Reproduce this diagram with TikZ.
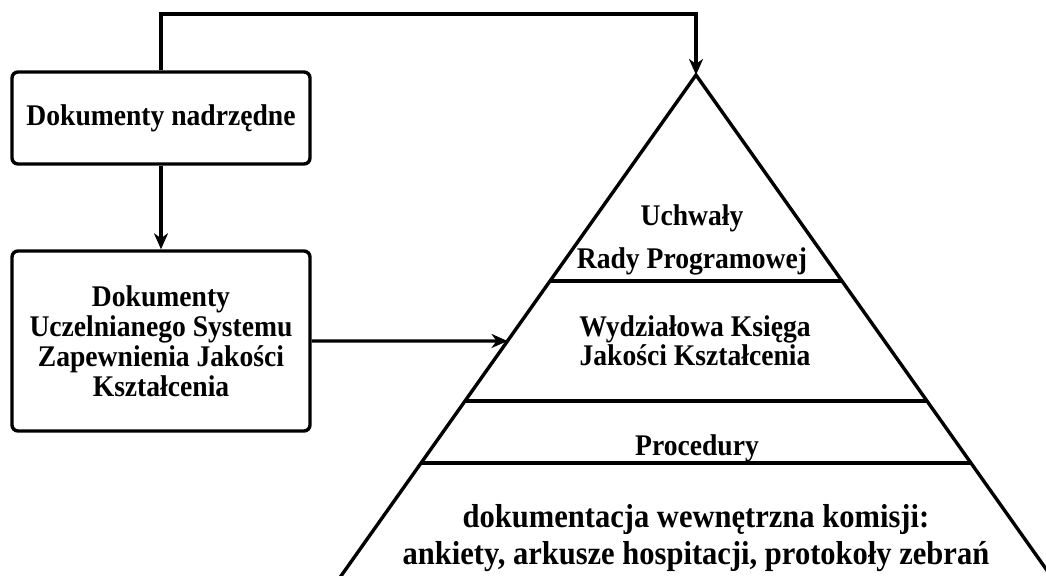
\documentclass[tikz,border=0pt]{standalone}
\usepackage{fontspec}
\setmainfont{Liberation Serif}[FakeStretch=0.92]
\usetikzlibrary{arrows.meta,calc,positioning}

\begin{document}
\begin{tikzpicture}[x=0.5pt,y=-0.5pt,
    box/.style={draw,line width=1.7pt,rounded corners=3pt,minimum width=149pt,inner sep=0pt,align=center,font=\bfseries\fontsize{15}{15}\selectfont},
    conn/.style={line width=1.7pt,-{Stealth[length=8pt,width=7pt,inset=2.5pt]}},
    layer/.style={align=center,font=\bfseries\fontsize{15}{14.5}\selectfont}]
        \clip (0,0) rectangle (1046,576);
        % boxes
        \node[box,minimum height=46pt] (nadrz) at (161,118) {Dokumenty nadrzędne};
        \node[box,minimum height=90pt] (uczel) at (161,341) {Dokumenty\\Uczelnianego Systemu\\Zapewnienia Jakości\\Kształcenia};
        % pyramid
        \coordinate (apex) at (696,75);
        \coordinate (baseL) at (341,576);
        \coordinate (baseR) at (1051,576);
        \draw[line width=1.7pt] ($(apex)!1.05!(baseL)$) -- (apex) -- ($(apex)!1.05!(baseR)$);
        \foreach \h in {281,401,463}
            \draw[line width=1.7pt] ($(apex)!{(\h-75)/501}!(baseL)$) -- ($(apex)!{(\h-75)/501}!(baseR)$);
        % layers
        \node[layer] (rada) at (692,240) {Uchwały\\[7pt]Rady Programowej};
        \node[layer] (ksiega) at (695,341) {Wydziałowa Księga\\Jakości Kształcenia};
        \node[layer] (proc) at (697,448) {Procedury};
        \node[layer,font=\bfseries\fontsize{16.6}{18.5}\selectfont] (dok) at (696,538) {dokumentacja wewnętrzna komisji:\\ankiety, arkusze hospitacji, protokoły zebrań};
        % connectors
        \coordinate (turn) at (696,14);
        \coordinate (entry) at ($(apex)!{(341-75)/501}!(baseL)$);
        \draw[conn] (nadrz.north) |- (turn) -- (apex);
        \draw[conn] (nadrz.south) -- (uczel.north);
        \draw[conn] (uczel.east) -- (entry);
    \end{tikzpicture}
\end{document}
